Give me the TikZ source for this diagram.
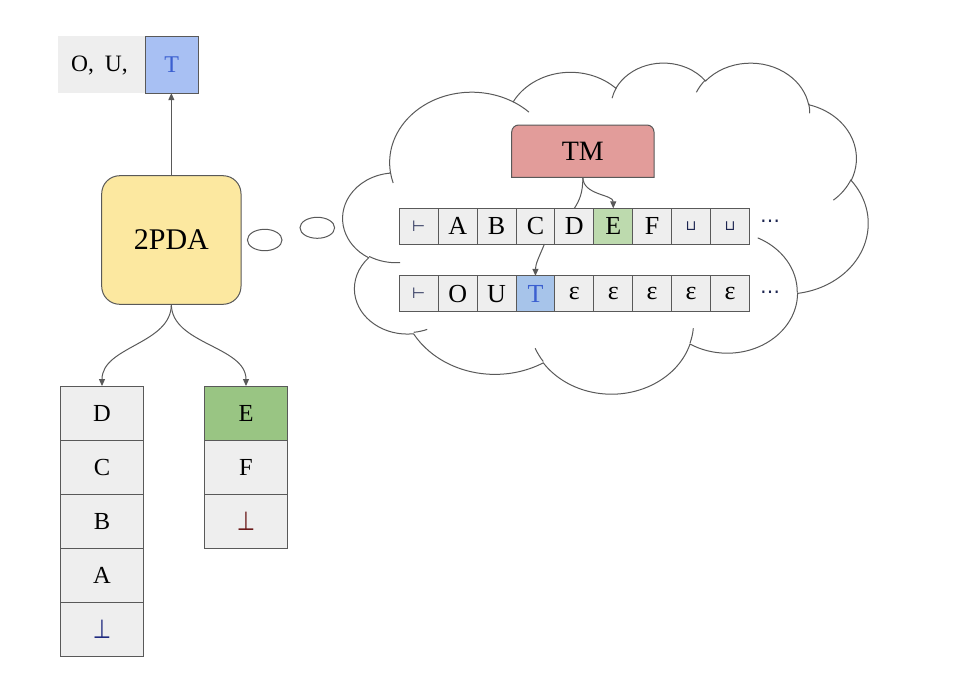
\documentclass[tikz,border=0pt]{standalone}
\usepackage{fontspec}
\usepackage{graphicx}
\setmainfont{Liberation Serif}
\newfontfamily\symf{DejaVu Sans}
\usetikzlibrary{arrows.meta,calc,shapes.geometric}
\definecolor{edge}{HTML}{595959}
\definecolor{cellgray}{HTML}{EEEEEE}
\definecolor{pdayellow}{HTML}{FCE8A0}
\definecolor{tmred}{HTML}{E29C9A}
\definecolor{tgreen}{HTML}{BDDAAE}
\definecolor{sgreen}{HTML}{99C583}
\definecolor{tblue}{HTML}{A7C4EA}
\definecolor{topblue}{HTML}{A8C0F3}
\definecolor{tbluetext}{HTML}{3B5FD0}
\definecolor{botblue}{HTML}{1F2A80}
\definecolor{botred}{HTML}{6B1A1A}
\definecolor{symnavy}{HTML}{1C2550}
\newcommand\cloudang[4]{%
  \pgfmathsetmacro\cA{atan2((#1)*sin(#3),(#2)*cos(#3))}%
  \pgfmathsetmacro\cR{atan2((#1)*sin((#3)+(#4)),(#2)*cos((#3)+(#4)))}%
  \pgfmathsetmacro\cB{\cR+360*round((\cA+(#4)-\cR)/360)}%
  \global\let\cA\cA \global\let\cB\cB}
\newcommand\botsym[1]{\scalebox{1}[1.25]{\symf\fontsize{21}{21}\selectfont\color{#1}⊥}}
\newcommand\turnstile{\symf\fontsize{15}{15}\selectfont\color{symnavy}⊢}
\newcommand\blanksym{\symf\fontsize{14}{14}\selectfont\color{symnavy}⊔}
\begin{document}
\begin{tikzpicture}[x=1pt,y=-1pt,line width=1pt,
  every node/.style={inner sep=0pt,outer sep=0pt},
  cell/.style={draw=edge,fill=cellgray,minimum width=38.9pt,minimum height=35.7pt,font=\fontsize{26}{26}\selectfont},
  stk/.style={draw=edge,fill=cellgray,minimum width=82.5pt,minimum height=54.1pt,font=\fontsize{24.5}{24.5}\selectfont},
  dots/.style={font=\symf\fontsize{20}{20}\selectfont,text=symnavy},
  arr/.style={draw=edge,line width=1pt,-{Triangle[length=7pt,width=6pt]}},
  plain/.style={draw=edge,line width=1pt},
  cloudline/.style={draw=edge,line width=1pt}]
\useasboundingbox (0,0) rectangle (965,693);

% top-left output
\node[fill=cellgray,minimum width=87pt,minimum height=56.7pt] (ou) at (101.5,64.8) {};
\node[font=\fontsize{23.5}{23.5}\selectfont] (outxt) at (99.5,65.5) {O,\hspace{11pt}U,};
\node[draw=edge,fill=topblue,minimum width=53.3pt,minimum height=56.7pt,font=\fontsize{24}{24}\selectfont,text=tbluetext] (tbox) at (171.7,64.8) {T};

% 2PDA
\node[draw=edge,fill=pdayellow,rounded corners=18pt,minimum width=139.3pt,minimum height=128.6pt,font=\fontsize{30}{30}\selectfont] (pda) at (171.35,240) {2PDA};
\draw[arr] (pda.north) -- (pda.north |- tbox.south);

% thought bubbles
\node[draw=edge,fill=white,ellipse,minimum width=34.6pt,minimum height=21.4pt] (th1) at (264.7,240) {};
\node[draw=edge,fill=white,ellipse,minimum width=34.6pt,minimum height=21pt] (th2) at (317.3,227.8) {};

% cloud (preset cloud geometry, 43200 units /100)
\begin{scope}[shift={(343,62)},xscale=525/432,yscale=331/432]
\draw[cloudline,fill=white] (39.00,143.70)
  \pgfextra{\cloudang{67.53}{91.90}{-190.4875}{123.7805}} arc[start angle=\cA,end angle=\cB,x radius=67.53,y radius=91.90]
  \pgfextra{\cloudang{53.33}{72.67}{-144.1024}{89.9452}} arc[start angle=\cA,end angle=\cB,x radius=53.33,y radius=72.67]
  \pgfextra{\cloudang{43.65}{59.45}{-145.8079}{99.7230}} arc[start angle=\cA,end angle=\cB,x radius=43.65,y radius=59.45]
  \pgfextra{\cloudang{48.57}{65.95}{-130.9861}{117.2417}} arc[start angle=\cA,end angle=\cB,x radius=48.57,y radius=65.95]
  \pgfextra{\cloudang{53.33}{72.73}{-78.7089}{109.0269}} arc[start angle=\cA,end angle=\cB,x radius=53.33,y radius=72.73]
  \pgfextra{\cloudang{67.75}{92.20}{-46.2673}{130.2690}} arc[start angle=\cA,end angle=\cB,x radius=67.75,y radius=92.20]
  \pgfextra{\cloudang{57.85}{78.67}{0.6250}{114.0333}} arc[start angle=\cA,end angle=\cB,x radius=57.85,y radius=78.67]
  \pgfextra{\cloudang{67.52}{92.15}{22.4516}{115.1726}} arc[start angle=\cA,end angle=\cB,x radius=67.52,y radius=92.15]
  \pgfextra{\cloudang{77.20}{105.43}{66.2426}{75.7110}} arc[start angle=\cA,end angle=\cB,x radius=77.20,y radius=105.43]
  \pgfextra{\cloudang{43.60}{59.18}{-274.9421}{146.7356}} arc[start angle=\cA,end angle=\cB,x radius=43.60,y radius=59.18]
  \pgfextra{\cloudang{43.45}{59.45}{-246.8285}{152.5189}} arc[start angle=\cA,end angle=\cB,x radius=43.45,y radius=59.45]
  -- cycle;
\draw[cloudline]
  (46.93,261.77) \pgfextra{\cloudang{43.45}{59.45}{86.7420}{26.4295}} arc[start angle=\cA,end angle=\cB,x radius=43.45,y radius=59.45]
  (69.28,348.99) \pgfextra{\cloudang{43.60}{59.18}{73.6105}{11.4475}} arc[start angle=\cA,end angle=\cB,x radius=43.60,y radius=59.18]
  (164.78,390.90) \pgfextra{\cloudang{67.52}{92.15}{137.6242}{14.0811}} arc[start angle=\cA,end angle=\cB,x radius=67.52,y radius=92.15]
  (288.27,347.51) \pgfextra{\cloudang{67.52}{92.15}{6.4533}{15.9984}} arc[start angle=\cA,end angle=\cB,x radius=67.52,y radius=92.15]
  (341.29,229.54) \pgfextra{\cloudang{57.85}{78.67}{-70.2924}{70.9174}} arc[start angle=\cA,end angle=\cB,x radius=57.85,y radius=78.67]
  (417.98,153.54) \pgfextra{\cloudang{53.33}{72.73}{30.3180}{27.7515}} arc[start angle=\cA,end angle=\cB,x radius=53.33,y radius=72.73]
  (383.24,54.26) \pgfextra{\cloudang{48.57}{65.95}{-13.7443}{14.8589}} arc[start angle=\cA,end angle=\cB,x radius=48.57,y radius=65.95]
  (290.78,39.52) \pgfextra{\cloudang{48.57}{65.95}{-149.1815}{18.1954}} arc[start angle=\cA,end angle=\cB,x radius=48.57,y radius=65.95]
  (221.41,47.20) \pgfextra{\cloudang{43.65}{59.45}{-163.4943}{17.6864}} arc[start angle=\cA,end angle=\cB,x radius=43.65,y radius=59.45]
  (140.00,51.92) \pgfextra{\cloudang{67.53}{91.90}{-66.7070}{12.3194}} arc[start angle=\cA,end angle=\cB,x radius=67.53,y radius=91.90]
  (41.27,157.89) \pgfextra{\cloudang{67.53}{91.90}{157.6544}{11.8582}} arc[start angle=\cA,end angle=\cB,x radius=67.53,y radius=91.90];
\end{scope}

% TM box (rounded top corners only)
\node[minimum width=142.3pt,minimum height=52.3pt] (tm) at (582.85,151.15) {};
\draw[draw=edge,fill=tmred] (tm.south west) -- ($(tm.north west)+(0,7)$) arc[start angle=180,end angle=90,radius=7pt]
  -- ($(tm.north east)+(-7,0)$) arc[start angle=90,end angle=0,radius=7pt] -- (tm.south east) -- cycle;
\node[font=\fontsize{28}{28}\selectfont] (tmlabel) at (tm.center) {TM};

% tape 1
\node[cell] (a0) at (418.75,226.2) {\turnstile};
\node[cell] (a1) at (457.65,226.2) {A};
\node[cell] (a2) at (496.55,226.2) {B};
\node[cell] (a3) at (535.45,226.2) {C};
\node[cell] (a4) at (574.35,226.2) {D};
\node[cell,fill=tgreen] (a5) at (613.25,226.2) {E};
\node[cell] (a6) at (652.15,226.2) {F};
\node[cell] (a7) at (691.05,226.2) {\blanksym};
\node[cell] (a8) at (729.95,226.2) {\blanksym};
\node[dots] (d1) at (770,224) {⋯};

% tape 2
\node[cell] (u0) at (418.75,293.7) {\turnstile};
\node[cell] (u1) at (457.65,293.7) {O};
\node[cell] (u2) at (496.55,293.7) {U};
\node[cell,fill=tblue,text=tbluetext] (u3) at (535.45,293.7) {T};
\node[cell] (u4) at (574.35,293.7) {ε};
\node[cell] (u5) at (613.25,293.7) {ε};
\node[cell] (u6) at (652.15,293.7) {ε};
\node[cell] (u7) at (691.05,293.7) {ε};
\node[cell] (u8) at (729.95,293.7) {ε};
\node[dots] (d2) at (770,294.3) {⋯};

% TM connectors
\draw[arr] (tm.south) .. controls +(0,18) and +(0,-14) .. (a5.north);
\draw[plain] (tm.south) .. controls +(0,16) and +(5,-8) .. (a4.north);
\coordinate (cT) at ($(a3.south)+(9,0)$);
\draw[arr] (cT) .. controls +(-5,12) and +(0,-12) .. (u3.north);

% stacks
\node[stk] (s1) at (102,413.1) {D};
\node[stk] (s2) at (102,467.2) {C};
\node[stk] (s3) at (102,521.3) {B};
\node[stk] (s4) at (102,575.4) {A};
\node[stk] (s5) at (102,629.5) {\botsym{botblue}};
\node[stk,fill=sgreen] (r1) at (246,413.1) {E};
\node[stk] (r2) at (246,467.2) {F};
\node[stk] (r3) at (246,521.3) {\botsym{botred}};

\draw[arr] (pda.south) .. controls +(0,40) and +(0,-40) .. (s1.north);
\draw[arr] (pda.south) .. controls +(0,40) and +(0,-40) .. (r1.north);
\end{tikzpicture}
\end{document}
